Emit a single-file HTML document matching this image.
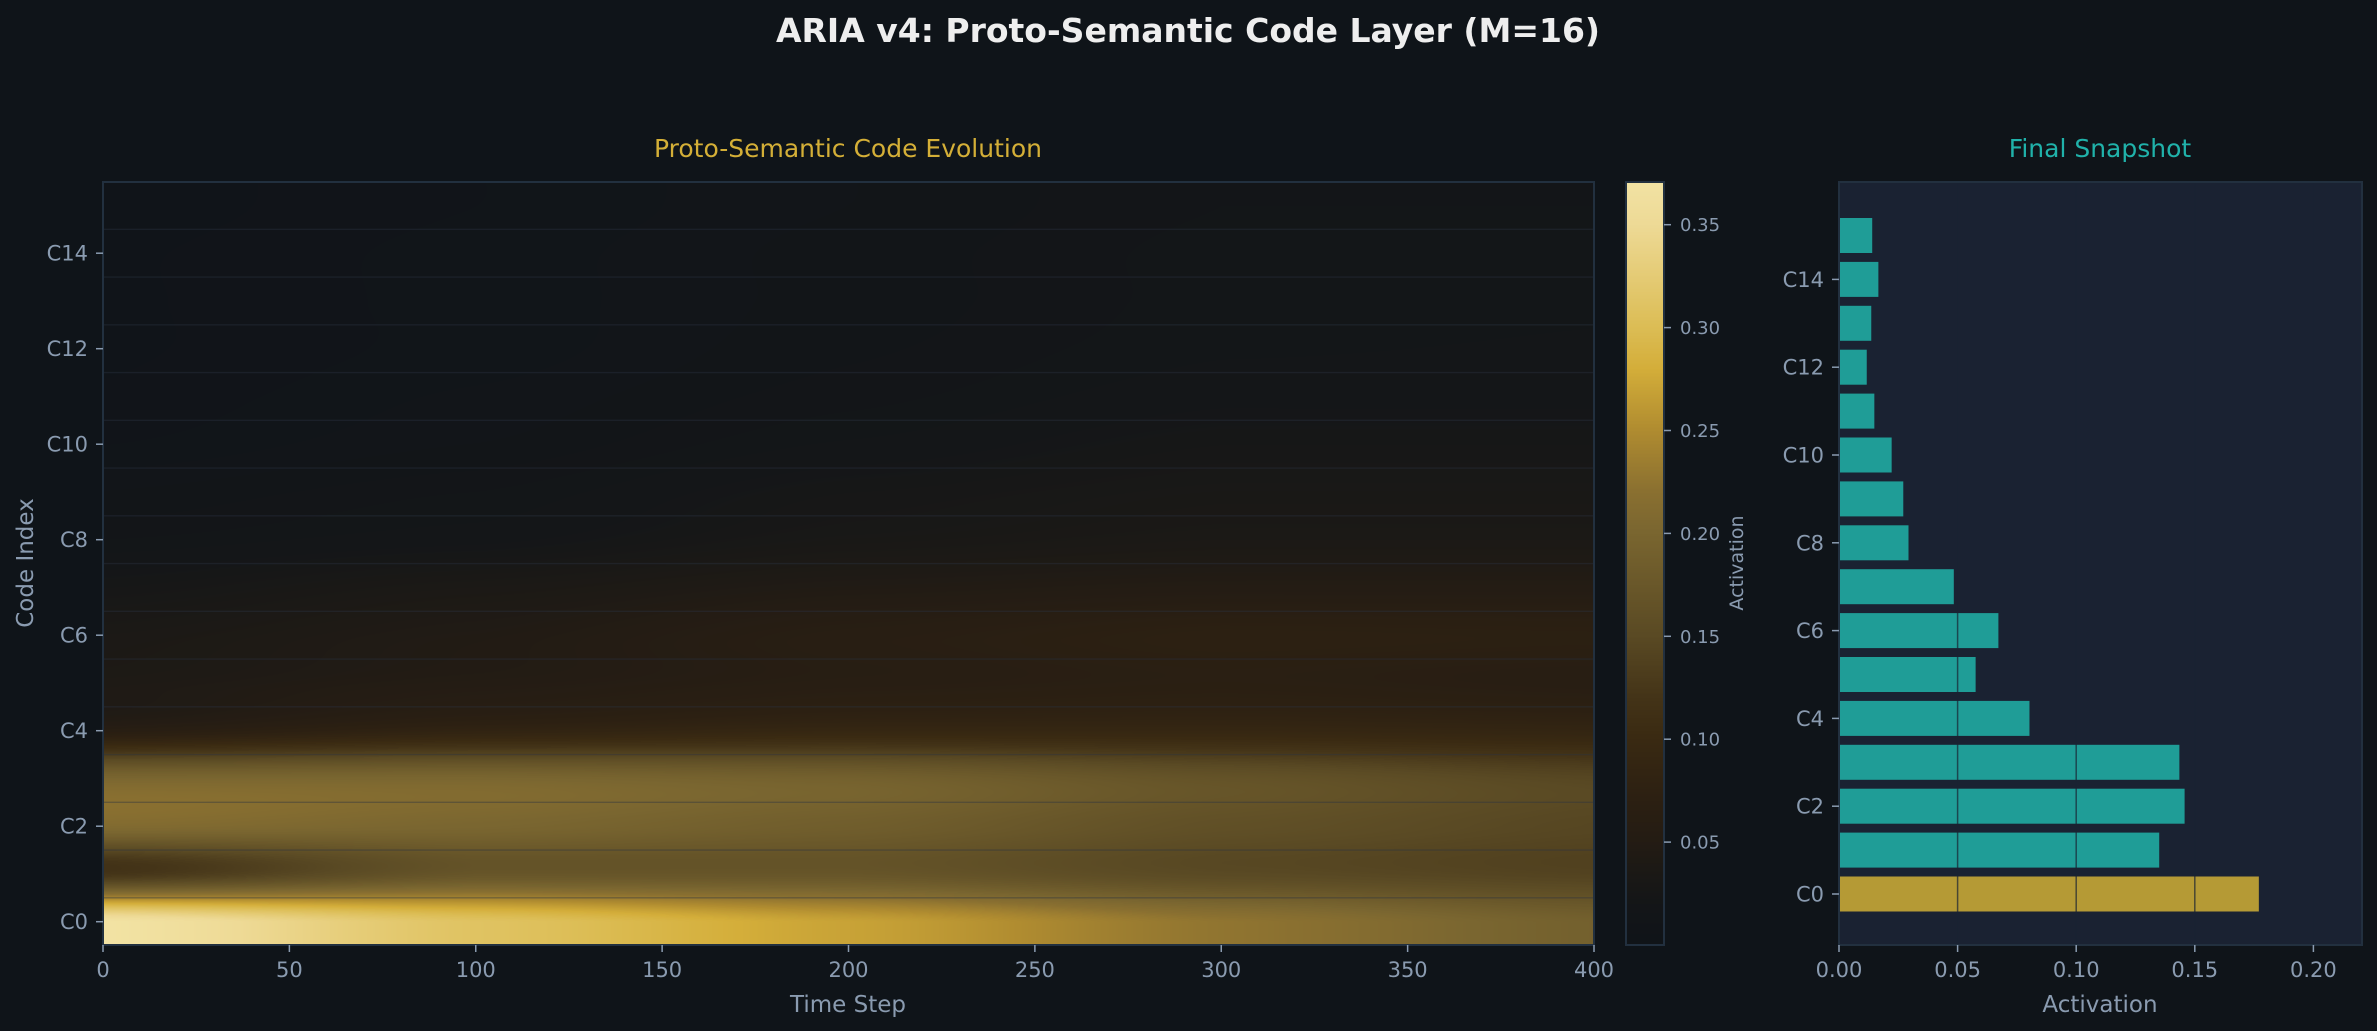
<!DOCTYPE html>
<html><head><meta charset="utf-8"><style>
html,body{margin:0;padding:0;background:#0f1419;}
body{width:2377px;height:1031px;position:relative;overflow:hidden;font-family:"DejaVu Sans","Liberation Sans",sans-serif;}
#hm{position:absolute;left:103px;top:182px;}
#cb{position:absolute;left:1626px;top:182px;}
svg{position:absolute;left:0;top:0;}
</style></head><body>
<canvas id="hm" width="1491" height="763"></canvas>
<canvas id="cb" width="38" height="763"></canvas>
<svg width="2377" height="1031" xmlns="http://www.w3.org/2000/svg" font-family="DejaVu Sans, Liberation Sans, sans-serif">
<text x="1188" y="42" fill="#eeeeee" font-size="33" font-weight="bold" text-anchor="middle">ARIA v4: Proto-Semantic Code Layer (M=16)</text>
<text x="848" y="157" fill="#d4af37" font-size="25" text-anchor="middle">Proto-Semantic Code Evolution</text>
<text x="2100" y="157" fill="#20b2aa" font-size="25" text-anchor="middle">Final Snapshot</text>
<g id="hmgrid" stroke="#2a3340" stroke-opacity="0.4" stroke-width="1.3"></g>
<rect x="103" y="182" width="1491" height="763" fill="none" stroke="#22303f" stroke-width="2"/>
<rect x="1626" y="182" width="38" height="763" fill="none" stroke="#22303f" stroke-width="2"/>
<g id="hmticks" fill="#8a9bb0" font-size="21"></g>
<text x="848" y="1012" fill="#8a9bb0" font-size="23" text-anchor="middle">Time Step</text>
<text transform="translate(33,563) rotate(-90)" fill="#8a9bb0" font-size="23" text-anchor="middle">Code Index</text>
<text transform="translate(1743,563) rotate(-90)" fill="#8a9bb0" font-size="19" text-anchor="middle">Activation</text>
<rect x="1839" y="182" width="523" height="763" fill="#1a2232" stroke="#22303f" stroke-width="2"/>
<g id="bars"></g>
<text x="2100" y="1012" fill="#8a9bb0" font-size="23" text-anchor="middle">Activation</text>
</svg>
<script>
var NS="http://www.w3.org/2000/svg";
function el(p,t,a,txt){var e=document.createElementNS(NS,t);for(var k in a)e.setAttribute(k,a[k]);if(txt!=null)e.textContent=txt;p.appendChild(e);return e;}
var stops=[[0,"#101419"],[0.02,"#141618"],[0.04,"#1e1a15"],[0.05,"#241c14"],[0.07,"#2c2012"],[0.10,"#3a2a12"],[0.12,"#443418"],[0.15,"#5a4a24"],[0.20,"#7a6630"],[0.22,"#8a7030"],[0.25,"#b08c30"],[0.28,"#d4ae3a"],[0.30,"#dcbd55"],[0.35,"#eeda96"],[0.371,"#f2e3a4"]];
stops=stops.map(function(s){var h=s[1];return [s[0],parseInt(h.substr(1,2),16),parseInt(h.substr(3,2),16),parseInt(h.substr(5,2),16)];});
function cmap(v){if(v<=0)return stops[0].slice(1);for(var i=1;i<stops.length;i++){if(v<=stops[i][0]){var a=stops[i-1],b=stops[i],f=(v-a[0])/(b[0]-a[0]);return [a[1]+(b[1]-a[1])*f,a[2]+(b[2]-a[2])*f,a[3]+(b[3]-a[3])*f];}}return stops[stops.length-1].slice(1);}
var R=[
[0.37,0.31,0.27,0.225,0.19],
[0.12,0.17,0.17,0.15,0.14],
[0.21,0.20,0.185,0.16,0.145],
[0.20,0.20,0.19,0.165,0.145],
[0.06,0.08,0.09,0.09,0.085],
[0.04,0.05,0.06,0.065,0.06],
[0.035,0.045,0.06,0.07,0.068],
[0.025,0.035,0.045,0.05,0.05],
[0.015,0.02,0.03,0.035,0.035],
[0.01,0.015,0.025,0.03,0.03],
[0.005,0.01,0.018,0.025,0.025],
[0.003,0.008,0.014,0.02,0.02],
[0.002,0.006,0.012,0.017,0.018],
[0.002,0.006,0.011,0.016,0.017],
[0.002,0.006,0.011,0.016,0.016],
[0.001,0.005,0.01,0.015,0.015]];
function rowv(k,t){k=Math.max(0,Math.min(15,k));var r=R[k];var x=t/100;var i=Math.min(3,Math.floor(x));var f=x-i;f=f*f*(3-2*f)*0.5+f*0.5;return r[i]+(r[i+1]-r[i])*f;}
function cr(p0,p1,p2,p3,f){return 0.5*((2*p1)+(-p0+p2)*f+(2*p0-5*p1+4*p2-p3)*f*f+(-p0+3*p1-3*p2+p3)*f*f*f);}
var c=document.getElementById("hm"),ctx=c.getContext("2d"),W=c.width,H=c.height,img=ctx.createImageData(W,H);
for(var py=0;py<H;py++){var y=15.5-(py+0.5)/H*16;var y0=Math.floor(y),f=y-y0;
 for(var px=0;px<W;px++){var t=(px+0.5)/W*400;
  var v=cr(rowv(y0-1,t),rowv(y0,t),rowv(y0+1,t),rowv(y0+2,t),f);
  if(y<0)v=rowv(0,t);
  var col=cmap(v),o=(py*W+px)*4;img.data[o]=col[0];img.data[o+1]=col[1];img.data[o+2]=col[2];img.data[o+3]=255;}}
ctx.putImageData(img,0,0);
var cb=document.getElementById("cb"),cx=cb.getContext("2d");
for(var py=0;py<763;py++){var v=0.371*(1-(py+0.5)/763);var col=cmap(v);cx.fillStyle="rgb("+(col[0]|0)+","+(col[1]|0)+","+(col[2]|0)+")";cx.fillRect(0,py,38,1);}
var g=document.getElementById("hmgrid");
function hy(k){return 921.7-47.75*k;}
for(var k=0;k<15;k++){var yy=hy(k+0.5);el(g,"line",{x1:103,x2:1594,y1:yy,y2:yy});}
var tk=document.getElementById("hmticks");
for(var k=0;k<=14;k+=2){var yy=hy(k);el(tk,"line",{x1:96,x2:103,y1:yy,y2:yy,stroke:"#8a9bb0","stroke-width":1.5});el(tk,"text",{x:88,y:yy+7.5,"text-anchor":"end"},"C"+k);}
for(var t=0;t<=400;t+=50){var xx=103+t*3.7275;el(tk,"line",{x1:xx,x2:xx,y1:945,y2:952,stroke:"#8a9bb0","stroke-width":1.5});el(tk,"text",{x:xx,y:977,"text-anchor":"middle"},""+t);}
var cbt=[0.05,0.10,0.15,0.20,0.25,0.30,0.35];
cbt.forEach(function(v){var yy=945-v*2058;el(tk,"line",{x1:1664,x2:1671,y1:yy,y2:yy,stroke:"#8a9bb0","stroke-width":1.5});el(tk,"text",{x:1680,y:yy+6.5,"font-size":18},v.toFixed(2));});
var vals=[0.177,0.135,0.1457,0.1435,0.0803,0.0576,0.0672,0.0484,0.0293,0.0271,0.0222,0.0149,0.0117,0.0136,0.0166,0.014];
var bg=document.getElementById("bars");
function by(k){return 894-43.9*k;}
function bx(v){return 1839+v*2372;}
for(var k=0;k<16;k++){el(bg,"rect",{x:1840,y:by(k)-17.5,width:bx(vals[k])-1840,height:35,fill:k==0?"#b59a35":"#1f9d97"});}
for(var v=0.05;v<0.21;v+=0.05){var xx=bx(v);el(bg,"line",{x1:xx,x2:xx,y1:183,y2:944,stroke:"#1a2232","stroke-opacity":0.7,"stroke-width":1.5});}
for(var v=0;v<=0.2001;v+=0.05){var xx=bx(v);el(bg,"line",{x1:xx,x2:xx,y1:945,y2:952,stroke:"#8a9bb0","stroke-width":1.5});el(bg,"text",{x:xx,y:977,"text-anchor":"middle",fill:"#8a9bb0","font-size":21},v.toFixed(2));}
for(var k=0;k<=14;k+=2){var yy=by(k);el(bg,"line",{x1:1832,x2:1839,y1:yy,y2:yy,stroke:"#8a9bb0","stroke-width":1.5});el(bg,"text",{x:1824,y:yy+7.5,"text-anchor":"end",fill:"#8a9bb0","font-size":21},"C"+k);}
</script>
</body></html>
